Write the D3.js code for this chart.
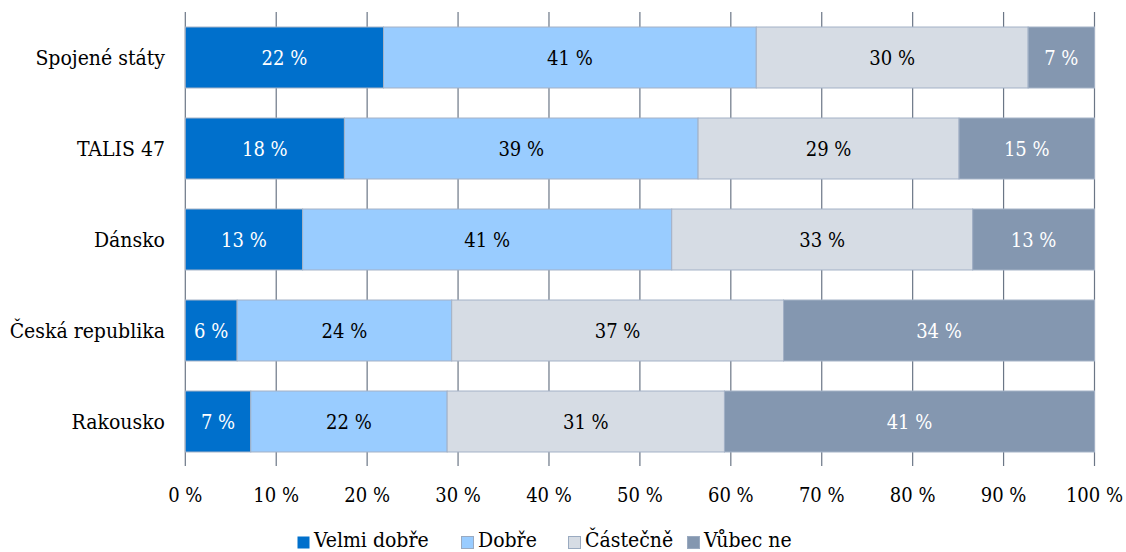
<!DOCTYPE html>
<html>
<head>
<meta charset="utf-8">
<script src="https://cdn.jsdelivr.net/npm/d3@7"></script>
<style>
  body { margin: 0; background: #fff; }
  svg { font-family: "DejaVu Serif Condensed", "DejaVu Serif", serif; font-stretch: condensed; }
</style>
</head>
<body>
<svg id="chart" width="1126" height="552"></svg>
<script>
const categories = ["Spojené státy", "TALIS 47", "Dánsko", "Česká republika", "Rakousko"];
const seriesNames = ["Velmi dobře", "Dobře", "Částečně", "Vůbec ne"];
const velmiDobre = [21.8, 17.5, 12.9, 5.7, 7.2];
const dobre = [41.0, 38.9, 40.6, 23.6, 21.6];
const castecne = [29.9, 28.7, 33.1, 36.5, 30.5];
const vubecNe = [7.3, 14.9, 13.4, 34.2, 40.7];
const tickValues = [0, 10, 20, 30, 40, 50, 60, 70, 80, 90, 100];

const colors = ["#0070cc", "#99ccff", "#d6dce4", "#8497b0"];
const labelColors = ["#fff", "#000", "#000", "#fff"];

const svg = d3.select("#chart");
const margin = { left: 185.3, right: 1094.5, top: 12, bottom: 467 };

const x = d3.scaleLinear().domain([0, 100]).range([margin.left, margin.right]);
const y = d3.scaleBand().domain(categories)
  .range([margin.top, margin.bottom])
  .paddingInner(0.33)
  .paddingOuter(0.165);

const rows = categories.map((c, i) => {
  const vals = [velmiDobre[i], dobre[i], castecne[i], vubecNe[i]];
  let acc = 0;
  return vals.map((v, s) => {
    const seg = { cat: c, series: s, start: acc, end: acc + v, value: v };
    acc += v;
    return seg;
  });
}).flat();

// vertical gridlines
svg.append("g")
  .selectAll("line")
  .data(tickValues)
  .join("line")
  .attr("x1", d => x(d))
  .attr("x2", d => x(d))
  .attr("y1", margin.top)
  .attr("y2", margin.bottom - 1)
  .attr("stroke", "#6b7686")
  .attr("stroke-width", 1.2);

// bars
svg.append("g")
  .selectAll("rect")
  .data(rows)
  .join("rect")
  .attr("x", d => x(d.start))
  .attr("y", d => y(d.cat))
  .attr("width", d => x(d.end) - x(d.start))
  .attr("height", y.bandwidth())
  .attr("fill", d => colors[d.series])
  .attr("stroke", "#a3b1c6")
  .attr("stroke-width", 1);

// bar labels
svg.append("g")
  .selectAll("text")
  .data(rows)
  .join("text")
  .attr("x", d => x((d.start + d.end) / 2))
  .attr("y", d => y(d.cat) + y.bandwidth() / 2)
  .attr("dy", "0.35em")
  .attr("text-anchor", "middle")
  .attr("font-size", 20)
  .attr("fill", d => labelColors[d.series])
  .text(d => Math.round(d.value) + " %");

// category labels
svg.append("g")
  .selectAll("text")
  .data(categories)
  .join("text")
  .attr("x", 165)
  .attr("y", d => y(d) + y.bandwidth() / 2)
  .attr("dy", "0.35em")
  .attr("text-anchor", "end")
  .attr("font-size", 21)
  .attr("fill", "#000")
  .text(d => d);

// x tick labels
svg.append("g")
  .selectAll("text")
  .data(tickValues)
  .join("text")
  .attr("x", d => x(d))
  .attr("y", 495)
  .attr("dy", "0.35em")
  .attr("text-anchor", "middle")
  .attr("font-size", 20)
  .attr("fill", "#000")
  .text(d => d + " %");

// legend, kept just inside the bottom edge
const legendX = [297, 461, 568, 687];
const legend = svg.append("g")
  .selectAll("g")
  .data(seriesNames)
  .join("g")
  .attr("transform", (d, i) => `translate(${legendX[i]},536)`);

legend.append("rect")
  .attr("x", 0.5)
  .attr("y", 0.5)
  .attr("width", 12)
  .attr("height", 12)
  .attr("fill", (d, i) => colors[i])
  .attr("stroke", (d, i) => i === 0 ? "none" : "#9aaac0")
  .attr("stroke-width", 1);

legend.append("text")
  .attr("x", 17)
  .attr("y", 11)
  .attr("font-size", 21)
  .attr("fill", "#000")
  .text(d => d);
</script>
</body>
</html>
